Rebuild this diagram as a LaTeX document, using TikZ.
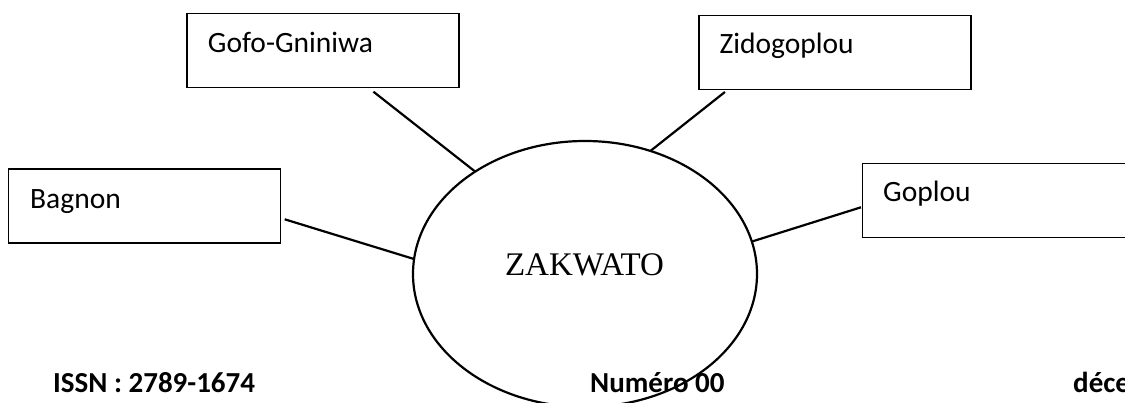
\documentclass[tikz,border=0pt]{standalone}
\usepackage{fontspec}
\setmainfont{Liberation Serif}
\newfontfamily\calibri{Carlito}
\usetikzlibrary{shapes.geometric}

\tikzset{
  box/.style={draw, line width=1.3pt, rectangle, outer sep=0pt,
              minimum width=272pt, minimum height=74pt, inner sep=0pt},
  lab/.style={font=\calibri\fontsize{29.5}{35}\selectfont, inner sep=0pt, anchor=base west},
  foot/.style={font=\calibri\bfseries\fontsize{29}{35}\selectfont, inner sep=0pt, anchor=base west},
  hub/.style={draw, line width=2.2pt, ellipse, outer sep=0pt, inner sep=0pt,
              minimum width=344pt, minimum height=266pt},
  link/.style={line width=2.2pt}
}

\begin{document}
\begin{tikzpicture}[x=1pt, y=-1pt]
  \useasboundingbox (0,0) rectangle (1125,403);
  \clip (0,0) rectangle (1125,403);

  % centre of the chart
  \node[hub] (zak) at (585,274) {};
  \node[font=\fontsize{33}{40}\selectfont, inner sep=0pt, anchor=base] (zak-t) at (584.5,275.5) {ZAKWATO};

  % surrounding villages
  \node[box] (gofo)   at (322.9,50.3) {};
  \node[lab] (gofo-t) at (207.7,52.3) {Gofo-Gniniwa};

  \node[box] (zido)   at (834.9,52.3) {};
  \node[lab] (zido-t) at (719.3,53.3) {Zidogoplou};

  \node[box] (bagnon)   at (144.7,206) {};
  \node[lab] (bagnon-t) at (30,208.3) {Bagnon};

  \node[box] (goplou)   at (998.7,200.8) {};
  \node[lab] (goplou-t) at (883,202) {Goplou};

  % links to the centre
  \draw[link] ([xshift=50.5pt,yshift=-4.4pt]gofo.south) -- (zak.137.2);
  \draw[link] ([xshift=26pt,yshift=-2.7pt]zido.south west) -- (zak.62.7);
  \draw[link] ([xshift=4pt,yshift=-13.3pt]bagnon.east) -- (zak.175.6);
  \draw[link] (zak.11.8) -- ([xshift=-1.7pt,yshift=-6.5pt]goplou.west);

  % page footer
  \node[foot] (issn) at (53,392) {ISSN : 2789-1674};
  \node[foot] (num)  at (590,392) {Numéro 00};
  \node[foot] (date) at (1073,392) {déce};
\end{tikzpicture}
\end{document}
